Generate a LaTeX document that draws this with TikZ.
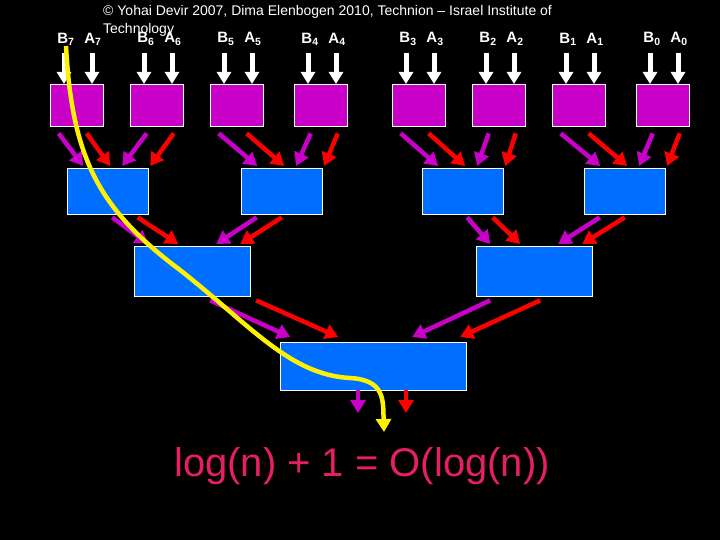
\documentclass[tikz,border=0pt]{standalone}
\usepackage{fontspec}
\setmainfont{Liberation Sans}
\usetikzlibrary{arrows.meta}
\begin{document}
\begin{tikzpicture}[x=1pt,y=-1pt,
 pbox/.style={draw=white,fill={rgb,255:red,200;green,0;blue,200},minimum width=53pt,minimum height=42pt,inner sep=0pt},
 bbox/.style={draw=white,fill={rgb,255:red,0;green,110;blue,255},inner sep=0pt},
 warr/.style={white,line width=5pt,-{Triangle[width=14pt,length=12pt]}},
 parr/.style={draw={rgb,255:red,200;green,0;blue,200},line width=4.5pt,-{Triangle[width=15pt,length=13pt]}},
 rarr/.style={draw=red,line width=4.5pt,-{Triangle[width=15pt,length=13pt]}},
 lbl/.style={text=white,font=\fontsize{15}{15}\selectfont\bfseries,inner sep=0pt}]
\fill[black] (0,0) rectangle (720,540);
\node[text=white,font=\fontsize{14}{18}\selectfont,anchor=north west,align=left,inner sep=0pt] (copy) at (103,5) {© Yohai Devir 2007, Dima Elenbogen 2010, Technion – Israel Institute of\\Technology};
\foreach \x/\i [count=\k] in {50/7,130/6,210/5,294/4,392/3,472/2,552/1,636/0}{
  \node[pbox,anchor=north west] (p\k) at (\x,84) {};
  \node[lbl] (b\k) at (\x+16,39) {B\textsubscript{\i}};
  \node[lbl] (a\k) at (\x+43,39) {A\textsubscript{\i}};
  \coordinate (tb\k) at (\x+14,53);
  \coordinate (ta\k) at (\x+42,53);
  \draw[warr] (tb\k) -- (tb\k |- p\k.north);
  \draw[warr] (ta\k) -- (ta\k |- p\k.north);
}
\foreach \x [count=\k] in {67,241,422,584}{
  \node[bbox,anchor=north west,minimum width=81pt,minimum height=46pt] (q\k) at (\x,168) {};
}
\foreach \k/\l/\r in {1/1/2,2/3/4,3/5/6,4/7/8}{
  \draw[parr] ([xshift=-18pt,yshift=-7pt]p\l.south) -- ([xshift=-24.5pt,yshift=2pt]q\k.north);
  \draw[rarr] ([xshift=10pt,yshift=-7pt]p\l.south) -- ([xshift=2.5pt,yshift=2pt]q\k.north);
  \draw[parr] ([xshift=-10pt,yshift=-7pt]p\r.south) -- ([xshift=14.5pt,yshift=2pt]q\k.north);
  \draw[rarr] ([xshift=17pt,yshift=-7pt]p\r.south) -- ([xshift=42.5pt,yshift=2pt]q\k.north);
}
\node[bbox,anchor=north west,minimum width=116pt,minimum height=50pt] (r1) at (134,246) {};
\node[bbox,anchor=north west,minimum width=116pt,minimum height=50pt] (r2) at (476,246) {};
\foreach \k/\l/\r in {1/1/2,2/3/4}{
  \draw[parr] ([xshift=4.5pt,yshift=-3pt]q\l.south) -- ([xshift=-44pt,yshift=2pt]r\k.north);
  \draw[rarr] ([xshift=30pt,yshift=-3pt]q\l.south) -- ([xshift=-14pt,yshift=2pt]r\k.north);
  \draw[parr] ([xshift=-25pt,yshift=-3pt]q\r.south) -- ([xshift=24pt,yshift=2pt]r\k.north);
  \draw[rarr] ([xshift=0pt,yshift=-3pt]q\r.south) -- ([xshift=48pt,yshift=2pt]r\k.north);
}
\node[bbox,anchor=north west,minimum width=186pt,minimum height=48pt] (s) at (280,342) {};
\draw[parr] ([xshift=18pt,yshift=-4pt]r1.south) -- ([xshift=-83pt,yshift=5pt]s.north);
\draw[rarr] ([xshift=64pt,yshift=-4pt]r1.south) -- ([xshift=-35pt,yshift=5pt]s.north);
\draw[parr] ([xshift=-44pt,yshift=-4pt]r2.south) -- ([xshift=39pt,yshift=5pt]s.north);
\draw[rarr] ([xshift=6pt,yshift=-4pt]r2.south) -- ([xshift=87pt,yshift=5pt]s.north);
\coordinate (o1) at (358,390);
\coordinate (o2) at (406,390);
\draw[parr] (o1) -- ++(0,23);
\draw[rarr] (o2) -- ++(0,23);
\coordinate (y0) at (66,46);
\coordinate (y1) at (384,432);
\draw[yellow,line width=4.5pt,-{Triangle[width=15pt,length=13pt]}] (y0) .. controls (72,160) and (100,210) .. (180,270)
  .. controls (250,325) and (290,375) .. (350,378) .. controls (385,380) and (383,400) .. (y1);
\node[text={rgb,255:red,230;green,30;blue,100},font=\fontsize{40}{40}\selectfont] (f) at (362,466) {log(n) + 1 = O(log(n))};
\end{tikzpicture}
\end{document}
